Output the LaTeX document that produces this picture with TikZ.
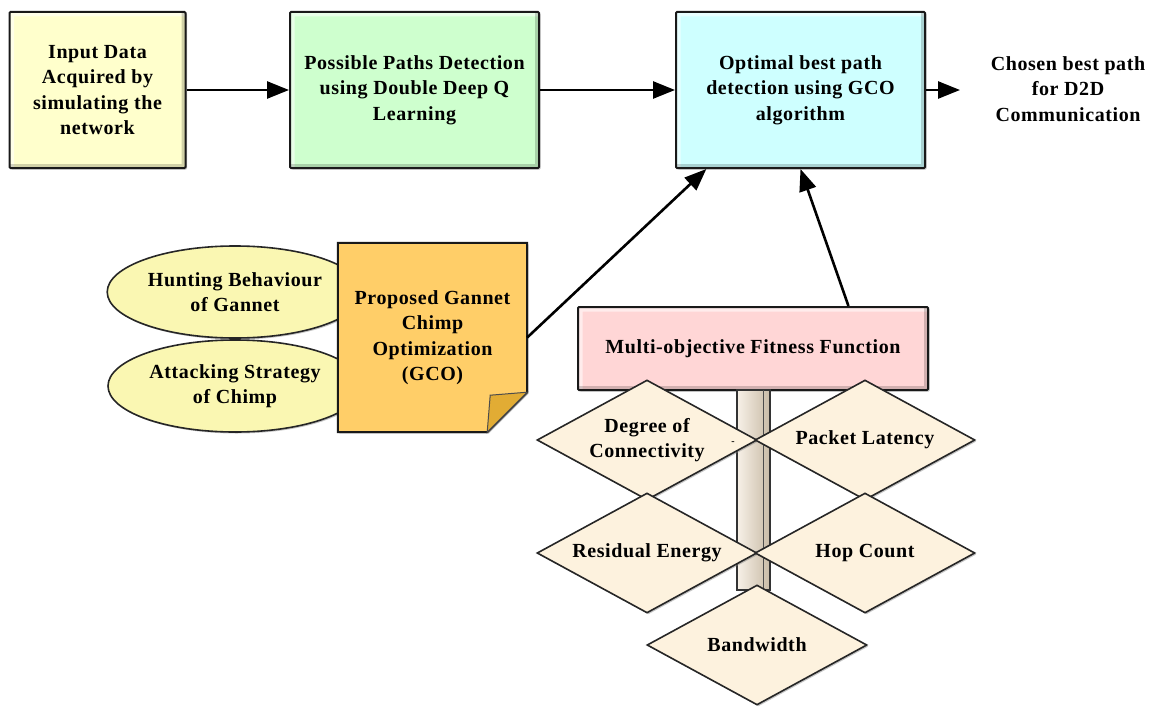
\documentclass[tikz,border=0pt]{standalone}
\usepackage{fontspec}
\setmainfont{Liberation Serif}[LetterSpace=3]
\usetikzlibrary{shapes.geometric,arrows.meta,shadows}
\definecolor{inpyel}{RGB}{255,255,204}
\definecolor{ddqgrn}{RGB}{206,255,206}
\definecolor{optcyn}{RGB}{206,255,255}
\definecolor{ovlyel}{RGB}{250,247,178}
\definecolor{gcoorg}{RGB}{255,206,104}
\definecolor{gcofld}{RGB}{226,172,52}
\definecolor{fitpnk}{RGB}{255,214,214}
\definecolor{diacrm}{RGB}{253,242,222}
\definecolor{polebg}{RGB}{236,220,196}

\begin{document}
\begin{tikzpicture}[x=1pt,y=-1pt,
  txt/.style={align=center, font=\fontsize{20}{25.5}\selectfont\bfseries},
  shd/.style={drop shadow={shadow xshift=1.5pt, shadow yshift=-1.5pt, opacity=.45}},
  bev/.style={path picture={
    \draw[white, opacity=.55, line width=9pt] (path picture bounding box.south west) -- (path picture bounding box.north west) -- (path picture bounding box.north east);
    \draw[black, opacity=.18, line width=8pt] (path picture bounding box.north east) -- (path picture bounding box.south east) -- (path picture bounding box.south west);}},
  box/.style={txt, shd, bev, draw=black!90, line width=2pt, rounded corners=1pt, minimum width=249pt, minimum height=156pt},
  oval/.style={txt, shd, ellipse, draw=black!85, line width=1.6pt, fill=ovlyel, minimum width=254pt, minimum height=92pt},
  dia/.style={txt, shd, diamond, aspect=1.83, inner sep=0pt, draw=black!85, line width=1.6pt, fill=diacrm, minimum width=220pt, minimum height=120pt},
  arr/.style={line width=2.6pt, -{Triangle[length=22pt,width=17pt]}}]
\useasboundingbox (0,0) rectangle (1158,709);
%top row
\node[box, fill=inpyel, minimum width=176pt] (inp) at (97.5,90) {Input Data\\Acquired by\\simulating the\\network};
\node[box, fill=ddqgrn] (ddq) at (414.5,90) {Possible Paths Detection\\using Double Deep Q\\Learning};
\node[box, fill=optcyn] (opt) at (800.5,90) {Optimal best path\\detection using GCO\\algorithm};
\node[txt] (out) at (1068,89) {Chosen best path\\for D2D\\Communication};
\coordinate (tip) at (960,90);
\draw[arr] (inp) -- (ddq);
\draw[arr] (ddq) -- (opt);
\draw[arr] (opt) -- (tip);
%gannet and chimp
\node[oval] (hunt) at (235,292) {Hunting Behaviour\\of Gannet};
\node[oval] (att) at (235,386) {Attacking Strategy\\of Chimp};
\node[minimum width=189pt, minimum height=189pt, inner sep=0pt] (gco) at (432.5,337.5) {};
\filldraw[shd, draw=black!90, line width=2pt, fill=gcoorg] (gco.north west) -- (gco.north east) -- ([yshift=40pt]gco.south east)
  -- ([xshift=-40pt]gco.south east) -- (gco.south west) -- cycle;
\filldraw[draw=black!70, line width=1pt, fill=gcofld] ([yshift=40pt]gco.south east) -- ([xshift=-37pt,yshift=37pt]gco.south east)
  -- ([xshift=-40pt]gco.south east) -- cycle;
\node[txt] (gcot) at (gco) {Proposed Gannet\\Chimp\\Optimization\\(GCO)};
\draw[arr] (gco.east) -- (opt.220);
%fitness function
\node[box, fill=fitpnk, minimum width=350pt, minimum height=83pt] (fit) at (753,348.5) {Multi-objective Fitness Function};
\draw[arr] (fit.24) -- (opt.south);
\shade[left color=polebg!40!white, right color=polebg!85!black, draw=black!80, line width=1.2pt] (737,390) rectangle (770,590);
\draw[black!70, line width=1pt] (763,390) -- (763,590);
\foreach \n/\x/\y/\t in {dc/647/440/{Degree of\\Connectivity}, pl/865/440/{Packet Latency},
  re/647/553/{Residual Energy}, hc/865/553/{Hop Count}, bw/757/645/{Bandwidth}}
  {\node[dia] (\n) at (\x,\y) {\t};}
\node[inner sep=0pt, font=\bfseries] (dash) at (733,443) {-};
\end{tikzpicture}
\end{document}
